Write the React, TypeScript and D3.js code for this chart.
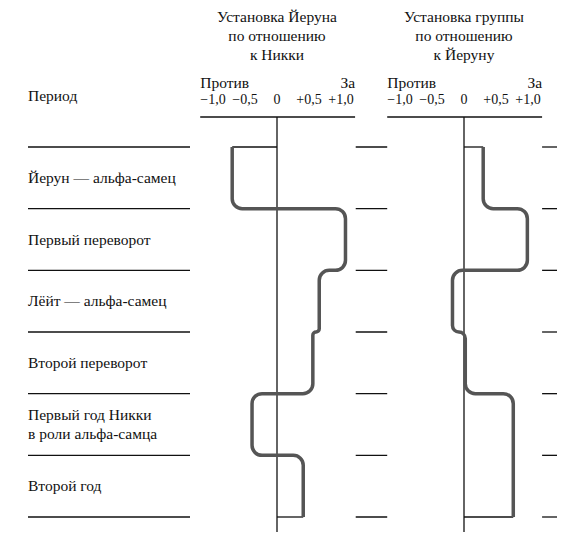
import React, { useEffect, useRef } from 'react';
import * as d3 from 'd3';

// Periods (rows), top to bottom
const periods: string[][] = [
    ['Йерун — альфа-самец'],
    ['Первый переворот'],
    ['Лёйт — альфа-самец'],
    ['Второй переворот'],
    ['Первый год Никки', 'в роли альфа-самца'],
    ['Второй год'],
];

// Attitude values per period, -1 (против) .. +1 (за)
const yeroenToNikki = [-0.7, 1.07, 0.66, 0.56, -0.39, 0.41];
const groupToYeroen = [0.3, 0.99, -0.18, 0.02, 0.77, 0.77];

const tickValues = [-1, -0.5, 0, 0.5, 1];
const tickLabels = ['\u22121,0', '\u22120,5', '0', '+0,5', '+1,0'];

const panelTitles = [
    ['Установка Йеруна', 'по отношению', 'к Никки'],
    ['Установка группы', 'по отношению', 'к Йеруну'],
];

const WIDTH = 574;
const HEIGHT = 541;
const FONT = '"Liberation Serif", "DejaVu Serif", serif';

function stepPath(
    values: number[],
    x: d3.ScaleLinear<number, number>,
    y: d3.ScaleLinear<number, number>
) {
    const n = values.length;
    const pts: [number, number][] = [[x(values[0]), y(0)]];
    for (let i = 1; i < n; i++) {
        if (values[i] !== values[i - 1]) {
            pts.push([x(values[i - 1]), y(i)], [x(values[i]), y(i)]);
        }
    }
    pts.push([x(values[n - 1]), y(n)]);

    const p = d3.path();
    p.moveTo(pts[0][0], pts[0][1]);
    for (let k = 1; k < pts.length - 1; k++) {
        const [px, py] = pts[k - 1];
        const [cx, cy] = pts[k];
        const [nx, ny] = pts[k + 1];
        const r = Math.min(
            10,
            Math.hypot(cx - px, cy - py) / 2,
            Math.hypot(nx - cx, ny - cy) / 2
        );
        p.arcTo(cx, cy, nx, ny, r);
    }
    const last = pts[pts.length - 1];
    p.lineTo(last[0], last[1]);
    return p.toString();
}

export default function App() {
    const ref = useRef<SVGSVGElement | null>(null);

    useEffect(() => {
        const svg = d3.select(ref.current);
        svg.selectAll('*').remove();

        const rowY = d3.scaleLinear().domain([0, periods.length]).range([147, 517]);
        const axisY = 117;

        const panels = [
            { zero: 277, values: yeroenToNikki, title: panelTitles[0] },
            { zero: 464, values: groupToYeroen, title: panelTitles[1] },
        ].map((p) => ({
            ...p,
            x: d3.scaleLinear().domain([-1, 1]).range([p.zero - 64, p.zero + 64]),
        }));

        const g = svg.append('g').style('font-family', FONT).attr('fill', '#111');

        // Left column header
        g.append('text').attr('x', 28).attr('y', 101).style('font-size', '15.5px').text('Период');

        // Row labels
        periods.forEach((lines, i) => {
            const cy = (rowY(i) + rowY(i + 1)) / 2;
            const t = g
                .append('text')
                .attr('x', 28)
                .style('font-size', '15.5px');
            lines.forEach((line, j) => {
                t.append('tspan')
                    .attr('x', 28)
                    .attr('y', cy + 5 + (j - (lines.length - 1) / 2) * 19)
                    .text(line);
            });
        });

        // Row separators
        const [p1, p2] = panels;
        const segments: [number, number][] = [
            [28, 190],
            [p1.x(1.23), p2.x(-1.2)],
            [p2.x(1.22), 557],
        ];
        d3.range(periods.length + 1).forEach((i) => {
            segments.forEach(([a, b]) => {
                g.append('line')
                    .attr('x1', a)
                    .attr('x2', b)
                    .attr('y1', rowY(i))
                    .attr('y2', rowY(i))
                    .attr('stroke', '#111')
                    .attr('stroke-width', 1.3);
            });
        });

        panels.forEach((p) => {
            const x = p.x;
            const pg = g.append('g');

            // Title
            p.title.forEach((line, j) => {
                pg.append('text')
                    .attr('x', p.zero)
                    .attr('y', 22 + j * 19)
                    .attr('text-anchor', 'middle')
                    .style('font-size', '15.5px')
                    .text(line);
            });

            pg.append('text')
                .attr('x', x(-1.2))
                .attr('y', 88)
                .style('font-size', '15.5px')
                .text('Против');
            pg.append('text')
                .attr('x', x(1.22))
                .attr('y', 88)
                .attr('text-anchor', 'end')
                .style('font-size', '15.5px')
                .text('За');

            // Tick labels
            tickValues.forEach((v, i) => {
                pg.append('text')
                    .attr('x', x(v))
                    .attr('y', 104)
                    .attr('text-anchor', 'middle')
                    .style('font-size', '14px')
                    .text(tickLabels[i]);
            });

            // Axis line
            pg.append('line')
                .attr('x1', x(-1.2))
                .attr('x2', x(1.22))
                .attr('y1', axisY)
                .attr('y2', axisY)
                .attr('stroke', '#111')
                .attr('stroke-width', 1.3);

            // Zero line
            pg.append('line')
                .attr('x1', x(0))
                .attr('x2', x(0))
                .attr('y1', axisY)
                .attr('y2', 532)
                .attr('stroke', '#111')
                .attr('stroke-width', 1.3);

            // Thin connectors at start and end
            const n = p.values.length;
            pg.append('line')
                .attr('x1', x(0))
                .attr('x2', x(p.values[0]))
                .attr('y1', rowY(0))
                .attr('y2', rowY(0))
                .attr('stroke', '#111')
                .attr('stroke-width', 1.3);
            pg.append('line')
                .attr('x1', x(0))
                .attr('x2', x(p.values[n - 1]))
                .attr('y1', rowY(n))
                .attr('y2', rowY(n))
                .attr('stroke', '#111')
                .attr('stroke-width', 1.3);

            // Attitude curve
            pg.append('path')
                .attr('d', stepPath(p.values, x, rowY))
                .attr('fill', 'none')
                .attr('stroke', '#555')
                .attr('stroke-width', 3.5);
        });
    }, []);

    return (
        <svg
            ref={ref}
            width={WIDTH}
            height={HEIGHT}
            style={{ position: 'absolute', left: 0, top: 0, background: '#fff' }}
        />
    );
}
